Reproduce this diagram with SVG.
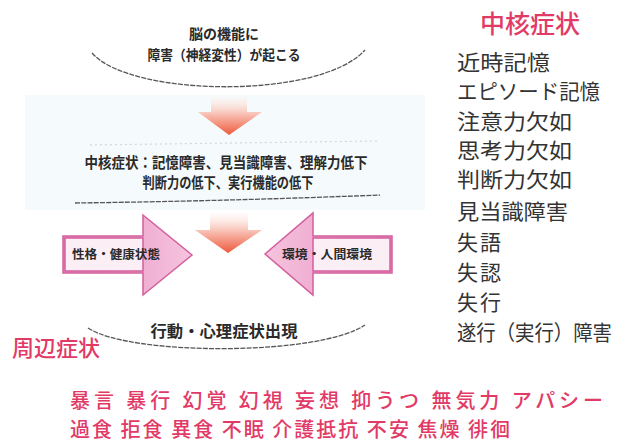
<svg xmlns="http://www.w3.org/2000/svg" width="625" height="447" viewBox="0 0 625 447">
<defs>
<style>
.dia{font-family:"Noto Sans CJK JP","Noto Sans CJK SC",sans-serif;font-weight:bold;fill:#2a2a2a;text-anchor:middle}
.lst{font-family:"Noto Sans CJK JP","Noto Sans CJK SC",sans-serif;font-size:21px;fill:#333}
.red{font-family:"Noto Sans CJK JP","Noto Sans CJK SC",sans-serif;font-weight:500;fill:#e23a66}
.edge{fill:none;stroke:#555;stroke-width:1.3;stroke-dasharray:5 1.2}
.faint{fill:none;stroke:#cfcfcf;stroke-width:1;stroke-dasharray:2 3}
.down{fill:url(#downGrad)}
.arw{stroke:#d35f9c;stroke-width:1.5}
.lbl{fill:#fbeef5;stroke:#d35f9c;stroke-width:1.5}
</style>
<linearGradient id="downGrad" x1="0" y1="0" x2="0" y2="1">
<stop offset="0" stop-color="#fff2ee" stop-opacity="0.3"/>
<stop offset="0.45" stop-color="#f8c0b4"/>
<stop offset="1" stop-color="#ee5a3c"/>
</linearGradient>
<linearGradient id="pinkL" x1="0" y1="0" x2="1" y2="0">
<stop offset="0" stop-color="#e58cc0"/>
<stop offset="1" stop-color="#f6c4de"/>
</linearGradient>
<linearGradient id="pinkR" x1="1" y1="0" x2="0" y2="0">
<stop offset="0" stop-color="#e58cc0"/>
<stop offset="1" stop-color="#f6c4de"/>
</linearGradient>
</defs>
<rect x="0" y="0" width="625" height="447" fill="#ffffff"/>
<rect x="25" y="95" width="400" height="115" fill="#f5fafc"/>

<g id="top-ellipse">
<path class="edge" d="M 92 53 C 130 97, 320 100, 365 50"/>
<text class="dia" x="224" y="39" font-size="14">脳の機能に</text>
<text class="dia" x="224" y="60" font-size="14" textLength="153" lengthAdjust="spacingAndGlyphs">障害（神経変性）が起こる</text>
</g>

<g id="core-box">
<path class="faint" d="M 90 145 Q 230 143 380 141"/>
<text class="dia" x="226" y="168" font-size="15" textLength="283" lengthAdjust="spacingAndGlyphs">中核症状：記憶障害、見当識障害、理解力低下</text>
<text class="dia" x="228" y="188" font-size="15" textLength="171" lengthAdjust="spacingAndGlyphs">判断力の低下、実行機能の低下</text>
<path class="edge" d="M 75 203 Q 230 201 380 195"/>
</g>

<g id="left-arrow">
<polygon class="arw" fill="url(#pinkL)" points="63,236 143,236 143,215 192,255 143,295 143,273 63,273"/>
<rect class="lbl" x="65" y="238" width="78" height="33"/>
<text class="dia" x="116" y="259" font-size="12" textLength="88" lengthAdjust="spacingAndGlyphs">性格・健康状態</text>
</g>

<g id="right-arrow">
<polygon class="arw" fill="url(#pinkR)" points="392,236 313,236 313,213 265,254 313,295 313,273 392,273"/>
<rect class="lbl" x="313" y="238" width="77" height="33"/>
<text class="dia" x="327" y="259" font-size="12" textLength="90" lengthAdjust="spacingAndGlyphs">環境・人間環境</text>
</g>

<g id="bottom-ellipse">
<text class="dia" x="224" y="337" font-size="16" font-weight="500" textLength="147" lengthAdjust="spacingAndGlyphs">行動・心理症状出現</text>
<path class="edge" d="M 88 328 C 130 356, 320 356, 365 325"/>
</g>

<g id="connectors">
<polygon class="down" points="211,97 247,97 247,112 262,112 229,135 198,112 211,112"/>
<polygon class="down" points="210,213 248,213 248,230 262,230 228,253 195,230 210,230"/>
</g>

<g id="core-list">
<text class="red" x="480" y="33" font-size="25">中核症状</text>
<text class="lst" x="457" y="70" textLength="93" lengthAdjust="spacingAndGlyphs">近時記憶</text>
<text class="lst" x="457" y="99" textLength="143" lengthAdjust="spacingAndGlyphs">エピソード記憶</text>
<text class="lst" x="457" y="129" textLength="115" lengthAdjust="spacingAndGlyphs">注意力欠如</text>
<text class="lst" x="457" y="158" textLength="115" lengthAdjust="spacingAndGlyphs">思考力欠如</text>
<text class="lst" x="457" y="187" textLength="115" lengthAdjust="spacingAndGlyphs">判断力欠如</text>
<text class="lst" x="457" y="219" textLength="111" lengthAdjust="spacingAndGlyphs">見当識障害</text>
<text class="lst" x="457" y="250" textLength="44">失語</text>
<text class="lst" x="457" y="280" textLength="44">失認</text>
<text class="lst" x="457" y="310" textLength="44">失行</text>
<text class="lst" x="457" y="340" font-size="19" textLength="155" lengthAdjust="spacingAndGlyphs">遂行（実行）障害</text>
</g>

<g id="peripheral-list">
<text class="red" x="12" y="356" font-size="22" textLength="88" lengthAdjust="spacingAndGlyphs">周辺症状</text>
<text class="red" x="70" y="408" font-size="20" textLength="533" lengthAdjust="spacing">暴言 暴行 幻覚 幻視 妄想 抑うつ 無気力 アパシー</text>
<text class="red" x="70" y="437" font-size="20" textLength="440" lengthAdjust="spacing">過食 拒食 異食 不眠 介護抵抗 不安 焦燥 徘徊</text>
</g>
</svg>
